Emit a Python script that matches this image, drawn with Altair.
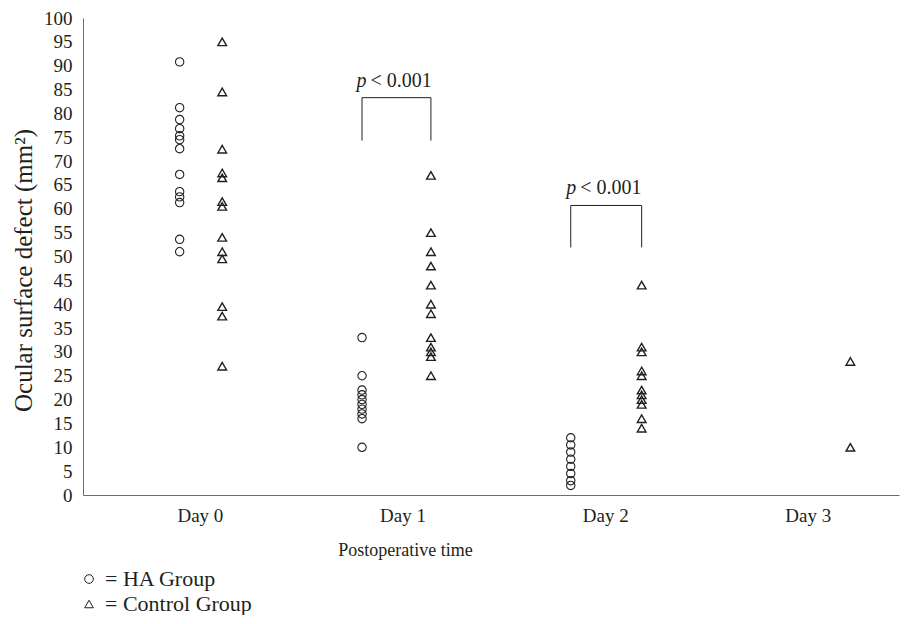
import altair as alt
import pandas as pd

# ---- data ----
day_labels = ["Day 0", "Day 1", "Day 2", "Day 3"]
groups = ["HA Group", "Control Group"]

ha_day0 = [90.8, 81.2, 78.7, 76.8, 75.3, 74.5, 72.6, 67.2, 63.6, 62.5, 61.3, 53.6, 51.0]
ha_day1 = [33.0, 25.0, 22.0, 21.0, 20.0, 19.0, 18.0, 17.0, 16.0, 10.0]
ha_day2 = [12.0, 10.5, 9.0, 7.5, 6.0, 4.5, 3.0, 2.0]
ha_day3 = []

ctrl_day0 = [95.0, 84.5, 72.5, 67.5, 66.5, 61.5, 60.5, 54.0, 51.0, 49.5, 39.5, 37.5, 27.0]
ctrl_day1 = [67.0, 55.0, 51.0, 48.0, 44.0, 40.0, 38.0, 33.0, 31.0, 30.0, 29.0, 25.0]
ctrl_day2 = [44.0, 31.0, 30.0, 26.0, 25.0, 22.0, 21.0, 20.0, 19.0, 16.0, 14.0]
ctrl_day3 = [28.0, 10.0]

y_ticks = [0, 5, 10, 15, 20, 25, 30, 35, 40, 45, 50, 55, 60, 65, 70, 75, 80, 85, 90, 95, 100]

bracket_days = [1, 2]
bracket_low = [74.3, 51.9]
bracket_high = [83.3, 60.7]
bracket_text = ["< 0.001", "< 0.001"]

# ---- layout (horizontal placement of each group's column, in day units) ----
ha_shift = [-0.10, -0.20, -0.17, -0.17]
ctrl_shift = [0.11, 0.14, 0.18, 0.21]

ha_all = [ha_day0, ha_day1, ha_day2, ha_day3]
ctrl_all = [ctrl_day0, ctrl_day1, ctrl_day2, ctrl_day3]

rows = []
for d in range(4):
    for v in ha_all[d]:
        rows.append({"group": "HA Group", "day": d, "pos": d + ha_shift[d], "value": v})
    for v in ctrl_all[d]:
        rows.append({"group": "Control Group", "day": d, "pos": d + ctrl_shift[d], "value": v})
pts = pd.DataFrame(rows)

seg_rows = []
txt_rows = []
for d, lo, hi, t in zip(bracket_days, bracket_low, bracket_high, bracket_text):
    xl = d + ha_shift[d]
    xr = d + ctrl_shift[d]
    seg_rows.append({"x": xl, "x2": xl, "y": lo, "y2": hi})
    seg_rows.append({"x": xl, "x2": xr, "y": hi, "y2": hi})
    seg_rows.append({"x": xr, "x2": xr, "y": hi, "y2": lo})
    txt_rows.append({"x": (xl + xr) / 2, "y": hi, "p": "p", "rest": t})
segs = pd.DataFrame(seg_rows)
txts = pd.DataFrame(txt_rows)

FONT = "Liberation Serif"
INK = "#231f20"

xscale = alt.Scale(domain=[-0.577, 3.45], nice=False, zero=False)
yscale = alt.Scale(domain=[0, 100], nice=False)

x_enc = alt.X("pos:Q", scale=xscale,
              axis=alt.Axis(values=[0, 1, 2, 3], labelExpr="'Day ' + datum.value",
                            ticks=False, grid=False, labelPadding=11,
                            domainColor="#6d6d6d", labelColor=INK, labelFontSize=19,
                            labelFont=FONT, title="Postoperative time", titleFont=FONT,
                            titleFontSize=18, titleFontWeight="normal", titleColor=INK,
                            titleX=322, titleY=60, titleAlign="center",
                            titleBaseline="alphabetic"))
y_enc = alt.Y("value:Q", scale=yscale,
              axis=alt.Axis(values=y_ticks, tickCount=21, ticks=False, grid=False,
                            labelOverlap=False, labelPadding=11, domainColor="#6d6d6d",
                            labelColor=INK, labelFontSize=19, labelFont=FONT,
                            title="Ocular surface defect (mm²)", titleFont=FONT,
                            titleFontSize=25, titleFontWeight="normal", titleColor=INK,
                            titleX=-60, titleY=252, titleAngle=-90, titleAlign="center",
                            titleBaseline="middle"))
shape_enc = alt.Shape("group:N",
                      scale=alt.Scale(domain=groups, range=["circle", "triangle-up"]),
                      legend=alt.Legend(orient="none", legendX=-5, legendY=550, title=None,
                                        labelExpr="'= ' + datum.label",
                                        labelFont=FONT, labelFontSize=22, labelColor=INK,
                                        symbolStrokeColor=INK, symbolFillColor="transparent",
                                        symbolStrokeWidth=1, symbolSize=75,
                                        rowPadding=3, labelOffset=5))

base = alt.Chart(pts)
ha_pts = base.transform_filter(alt.datum.group == "HA Group").mark_point(
    filled=False, stroke=INK, strokeWidth=1.1, opacity=1, size=70
).encode(x=x_enc, y=y_enc, shape=shape_enc)
ctrl_pts = base.transform_filter(alt.datum.group == "Control Group").mark_point(
    filled=False, stroke=INK, strokeWidth=1.4, opacity=1, size=75
).encode(x=x_enc, y=y_enc, shape=shape_enc)

rules = alt.Chart(segs).mark_rule(color=INK, strokeWidth=1).encode(
    x="x:Q", x2="x2:Q", y="y:Q", y2="y2:Q"
)

ptext = alt.Chart(txts).mark_text(font=FONT, fontSize=20, fontStyle="italic", color=INK,
                                  align="left", baseline="alphabetic", dx=-40, dy=-11).encode(
    x="x:Q", y="y:Q", text="p:N"
)
rtext = alt.Chart(txts).mark_text(font=FONT, fontSize=20, color=INK,
                                  align="left", baseline="alphabetic", dx=-26, dy=-11).encode(
    x="x:Q", y="y:Q", text="rest:N"
)

chart = alt.layer(ha_pts, ctrl_pts, rules, ptext, rtext).properties(
    width=816, height=477,
    autosize=alt.AutoSizeParams(type="none"),
    padding={"left": 75, "top": 10, "right": 2, "bottom": 120},
).configure(font=FONT).configure_view(stroke=None).configure_axis(labelOverlap=False)

chart.save("out.html", embed_options={"renderer": "svg", "actions": False})
